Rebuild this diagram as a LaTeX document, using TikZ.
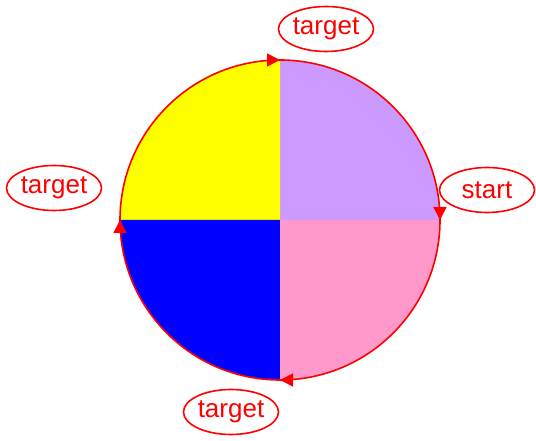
\documentclass[tikz,border=0pt]{standalone}
\usepackage{fontspec}
\setmainfont{Liberation Sans}
\usetikzlibrary{shapes.geometric,arrows.meta,calc}
\definecolor{lav}{HTML}{CC99FF}
\definecolor{pinkq}{HTML}{FF99CC}
\definecolor{yelq}{HTML}{FFFF00}
\definecolor{bluq}{HTML}{0000FF}
\definecolor{redl}{HTML}{FF0000}
\begin{document}
\begin{tikzpicture}[x=1pt,y=1pt,
  lbl/.style={ellipse,draw=redl,line width=1.6pt,text=redl,minimum width=95pt,minimum height=45pt,inner sep=0pt,font=\fontsize{26}{30}\selectfont},
  arc line/.style={draw=redl,line width=1.6pt},
  tip line/.style={draw=redl,line width=1.6pt,-{Triangle[length=13pt,width=13pt]}}]
\useasboundingbox (0,0) rectangle (536,441);
\coordinate (c) at (280,221);
\def\R{160}
\fill[lav] (c) -- ++(0:\R) arc (0:90:\R) -- cycle;
\fill[yelq] (c) -- ++(90:\R) arc (90:180:\R) -- cycle;
\fill[bluq] (c) -- ++(180:\R) arc (180:270:\R) -- cycle;
\fill[pinkq] (c) -- ++(270:\R) arc (270:360:\R) -- cycle;
\coordinate (pT) at ($(c)+(90:\R)$);
\coordinate (pR) at ($(c)+(0:\R)$);
\coordinate (pB) at ($(c)+(270:\R)$);
\coordinate (pL) at ($(c)+(180:\R)$);
\draw[arc line] (pT) arc (90:0:\R);
\draw[arc line] (pR) arc (0:-90:\R);
\draw[arc line] (pB) arc (-90:-180:\R);
\draw[arc line] (pL) arc (180:90:\R);
\draw[tip line] ($(pT)+(-2,0)$) -- (pT);
\draw[tip line] ($(pR)+(0,2)$) -- (pR);
\draw[tip line] ($(pB)+(2,0)$) -- (pB);
\draw[tip line] ($(pL)+(0,-2)$) -- (pL);
\node[lbl] (tT) at (326,412) {target};
\node[lbl] (tS) at (487,251) {start};
\node[lbl] (tL) at (54,253) {target};
\node[lbl] (tB) at (231,29) {target};
\end{tikzpicture}
\end{document}
